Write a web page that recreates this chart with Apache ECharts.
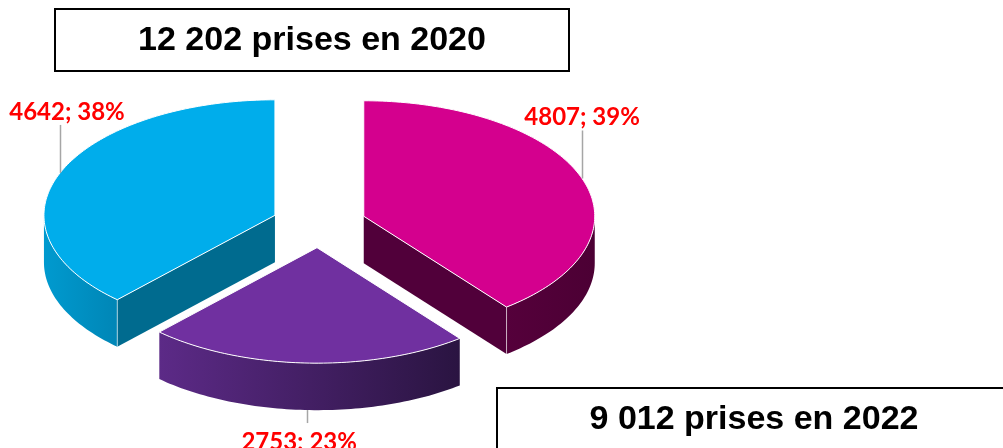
<!DOCTYPE html>
<html>
<head>
<meta charset="utf-8">
<script src="https://cdn.jsdelivr.net/npm/echarts@6/dist/echarts.min.js"></script>
<style>html,body{margin:0;padding:0;background:#fff}#chart{width:1003px;height:448px}</style>
</head>
<body>
<div id="chart"></div>
<script>
// prises 2020, dans le sens horaire depuis midi
var sliceValues = [4807, 2753, 4642];
var titleTop = '12 202 prises en 2020';
var titleBottom = '9 012 prises en 2022';

// dessus, côté gauche, côté droit, face de coupe
var sliceColors = [
  {top: '#D4008E', sideL: '#55003B', sideR: '#4C0034', cut: '#51003A'},
  {top: '#7030A0', sideL: '#5C2A87', sideR: '#2A1441', cut: '#3E1B5E'},
  {top: '#00ADEB', sideL: '#009ACF', sideR: '#0086B6', cut: '#006B8F'}
];
var labelShift = [0, -8, 0];

var CX = 319, CY = 224, RX = 231, RY = 115.5, DEPTH = 47, EXPLODE = 0.205;
var total = sliceValues.reduce(function (a, b) { return a + b; }, 0);
var starts = [], acc = 0;
sliceValues.forEach(function (v) { starts.push(acc / total * 2 * Math.PI); acc += v; });

function rim(o, t, dy) {
  return [o[0] + RX * Math.sin(t), o[1] - RY * Math.cos(t) + (dy || 0)];
}
function arc(o, t0, t1, dy) {
  var n = Math.max(2, Math.ceil((t1 - t0) / 0.02)), pts = [];
  for (var i = 0; i <= n; i++) pts.push(rim(o, t0 + (t1 - t0) * i / n, dy));
  return pts;
}

function renderSlice(params, api) {
  var i = params.dataIndex;
  var v = api.value(0);
  var a0 = starts[i], a1 = a0 + v / total * 2 * Math.PI, m = (a0 + a1) / 2;
  var o = [CX + EXPLODE * RX * Math.sin(m), CY - EXPLODE * RY * Math.cos(m)];
  var col = sliceColors[i];
  var base = Math.round((1 - Math.cos(m)) * 10) * 10; // les parts de devant par-dessus
  var kids = [];
  var edge = 'rgba(255,255,255,0.6)';

  function cut(a) {
    var p = rim(o, a);
    kids.push({type: 'polygon', z2: base + 1,
      shape: {points: [o, p, [p[0], p[1] + DEPTH], [o[0], o[1] + DEPTH]]},
      style: {fill: col.cut}});
    kids.push({type: 'line', z2: base + 4,
      shape: {x1: p[0], y1: p[1], x2: p[0], y2: p[1] + DEPTH},
      style: {stroke: edge, lineWidth: 1}});
  }
  if (Math.sin(a0) < -0.01) cut(a0);
  if (Math.sin(a1) > 0.01) cut(a1);

  var s0 = Math.max(a0, Math.PI / 2), s1 = Math.min(a1, 1.5 * Math.PI);
  if (s1 > s0) {
    var pts = arc(o, s0, s1, 0).concat(arc(o, s0, s1, DEPTH).reverse());
    kids.push({type: 'polygon', z2: base + 2, shape: {points: pts},
      style: {fill: {type: 'linear', x: 0, y: 0, x2: 1, y2: 0,
        colorStops: [{offset: 0, color: col.sideL}, {offset: 1, color: col.sideR}]}}});
  }
  kids.push({type: 'polygon', z2: base + 3, shape: {points: [o].concat(arc(o, a0, a1, 0))},
    style: {fill: col.top, stroke: '#fff', lineWidth: 1}});

  // étiquette
  var txt = v + '; ' + Math.round(v / total * 100) + '%';
  var p = rim(o, m);
  var lx = Math.round(p[0]) + 0.5;
  var tx = Math.max(p[0] + labelShift[i], 10 + 57); // garder le texte dans le cadre
  var lbl = {fill: '#FF0000', font: 'bold 24px Lato', align: 'center', text: txt};
  if (Math.cos(m) < 0) {
    var y0 = p[1] + DEPTH;
    kids.push({type: 'line', z2: 300, shape: {x1: lx, y1: y0, x2: lx, y2: y0 + 13},
      style: {stroke: '#A6A6A6', lineWidth: 1.5}});
    lbl.verticalAlign = 'top';
    kids.push({type: 'text', z2: 300, x: tx, y: y0 + 20, style: lbl});
  } else {
    kids.push({type: 'line', z2: 300, shape: {x1: lx, y1: p[1], x2: lx, y2: p[1] - 48},
      style: {stroke: '#A6A6A6', lineWidth: 1.5}});
    lbl.verticalAlign = 'bottom';
    kids.push({type: 'text', z2: 300, x: tx, y: p[1] - 49, style: lbl});
  }
  return {type: 'group', children: kids};
}

function titleBox(x, y, w, h, text) {
  return {type: 'group', children: [
    {type: 'rect', shape: {x: x, y: y, width: w, height: h},
      style: {fill: '#fff', stroke: '#000', lineWidth: 2}},
    {type: 'text', x: x + w / 2, y: y + h / 2 + 1,
      style: {text: text, font: 'bold 34px "Liberation Sans", Arial', fill: '#000',
        align: 'center', verticalAlign: 'middle'}}
  ]};
}

var myChart = echarts.init(document.getElementById('chart'));
myChart.setOption({
  animation: false,
  backgroundColor: '#fff',
  graphic: [
    titleBox(55, 9, 514, 62, titleTop),
    titleBox(497, 388, 514, 62, titleBottom)
  ],
  series: [{
    type: 'custom',
    coordinateSystem: 'none',
    silent: true,
    renderItem: renderSlice,
    data: sliceValues
  }]
});
</script>
</body>
</html>
